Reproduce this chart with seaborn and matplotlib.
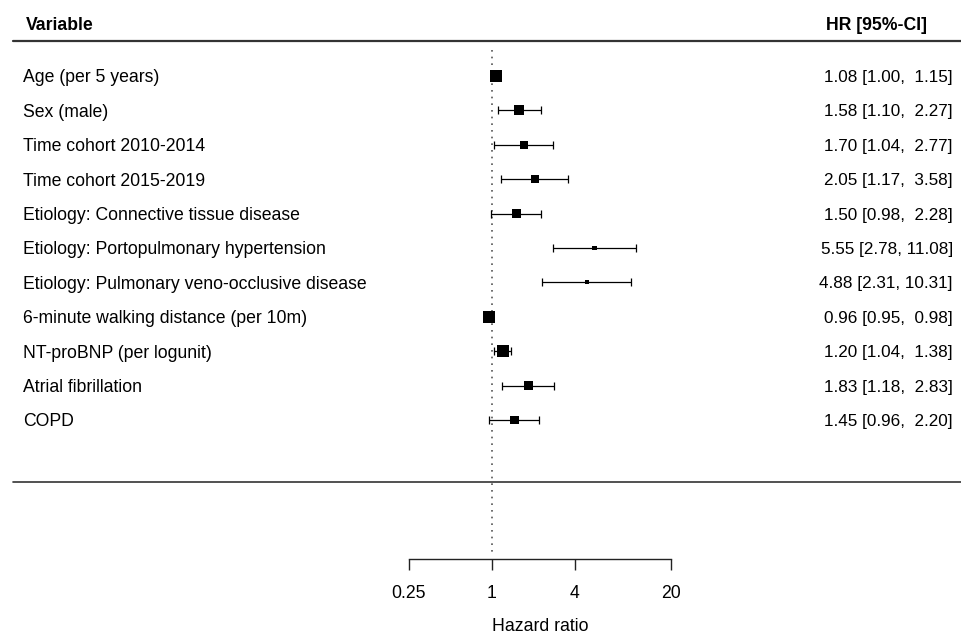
import numpy as np
import pandas as pd
import seaborn as sns
import matplotlib.pyplot as plt
from matplotlib.transforms import blended_transform_factory

variables = ["Age (per 5 years)", "Sex (male)", "Time cohort 2010-2014",
             "Time cohort 2015-2019", "Etiology: Connective tissue disease",
             "Etiology: Portopulmonary hypertension",
             "Etiology: Pulmonary veno-occlusive disease",
             "6-minute walking distance (per 10m)", "NT-proBNP (per logunit)",
             "Atrial fibrillation", "COPD"]
hr = [1.08, 1.58, 1.70, 2.05, 1.50, 5.55, 4.88, 0.96, 1.20, 1.83, 1.45]
lower = [1.00, 1.10, 1.04, 1.17, 0.98, 2.78, 2.31, 0.95, 1.04, 1.18, 0.96]
upper = [1.15, 2.27, 2.77, 3.58, 2.28, 11.08, 10.31, 0.98, 1.38, 2.83, 2.20]
x_ticks = [0.25, 1, 4, 20]

# box side in pixels
box_px = [12, 10, 8, 8, 9, 5, 4, 12, 12, 9, 9]

df = pd.DataFrame({"var": variables, "hr": hr, "lo": lower, "hi": upper})
df["row"] = np.arange(1, len(df) + 1)
df["area"] = [(p / 1.389) ** 2 for p in box_px]
df["label"] = [f"{h:.2f} [{l:.2f}, {' ' if u < 10 else ''}{u:.2f}]"
               for h, l, u in zip(df.hr, df.lo, df.hi)]

sns.set_theme(style="white")
plt.rcParams["font.family"] = ["Liberation Sans", "DejaVu Sans"]
plt.rcParams["text.color"] = "black"
plt.rcParams["axes.labelcolor"] = "black"
FS = 12.7

W, H = 962, 636
fig = plt.figure(figsize=(W / 100, H / 100), dpi=100)

# pixel geometry of the plot
top_px, axis_px = 41, 559
row1_px, step_px = 76, 34.4
ax = fig.add_axes([409 / W, (H - axis_px) / H, (671 - 409) / W, (axis_px - top_px) / H])
ax.set_xscale("log", base=2)
ax.set_xlim(0.25, 20)
y_top = 1 + (top_px - row1_px) / step_px
y_bot = 1 + (axis_px - row1_px) / step_px
ax.set_ylim(y_bot, y_top)

# reference line at HR = 1
ax.vlines(1, 1 + (50 - row1_px) / step_px, 1 + (553 - row1_px) / step_px,
          colors="#555555", linestyles=(0, (1, 3)), linewidth=1.2, zorder=1)

ax.errorbar(df.hr, df.row, xerr=[df.hr - df.lo, df.hi - df.hr], fmt="none",
            ecolor="black", elinewidth=0.9, capsize=2.9, capthick=0.9, zorder=2)
sns.scatterplot(data=df, x="hr", y="row", size="area",
                sizes=(df.area.min(), df.area.max()), marker="s",
                color="black", edgecolor="black", linewidth=0, legend=False,
                ax=ax, zorder=3)

ax.set_xticks(x_ticks)
ax.set_xticklabels(["0.25", "1", "4", "20"])
ax.minorticks_off()
ax.tick_params(axis="x", direction="out", length=8, width=1, colors="#222222",
               labelsize=FS, pad=11, labelcolor="black", bottom=True)
ax.set_yticks([])
for s in ["left", "right", "top"]:
    ax.spines[s].set_visible(False)
ax.spines["bottom"].set_color("#222222")
ax.spines["bottom"].set_linewidth(1)
ax.set_xlabel("Hazard ratio", fontsize=FS, labelpad=11)
ax.set_ylabel("")

# text columns
tr = blended_transform_factory(fig.transFigure, ax.transData)
for _, r in df.iterrows():
    ax.text(23 / W, r.row, r["var"], transform=tr, ha="left",
            va="center_baseline", fontsize=FS)
    ax.text(953 / W, r.row, r["label"], transform=tr, ha="right",
            va="center_baseline", fontsize=12.3)

fig.text(26 / W, 1 - 24 / H, "Variable", ha="left", va="center_baseline",
         fontsize=FS, fontweight="bold")
fig.text(927 / W, 1 - 24 / H, "HR [95%-CI]", ha="right", va="center_baseline",
         fontsize=FS, fontweight="bold")

# horizontal rules
ax.plot([13 / W, 1], [y_top, y_top], transform=tr, color="#333333",
        linewidth=1.6, clip_on=False)
y_rule = 1 + (482 - row1_px) / step_px
ax.plot([13 / W, 1], [y_rule, y_rule], transform=tr, color="#333333",
        linewidth=1.2, clip_on=False)

fig.savefig("out.png", dpi=100, facecolor="white")
